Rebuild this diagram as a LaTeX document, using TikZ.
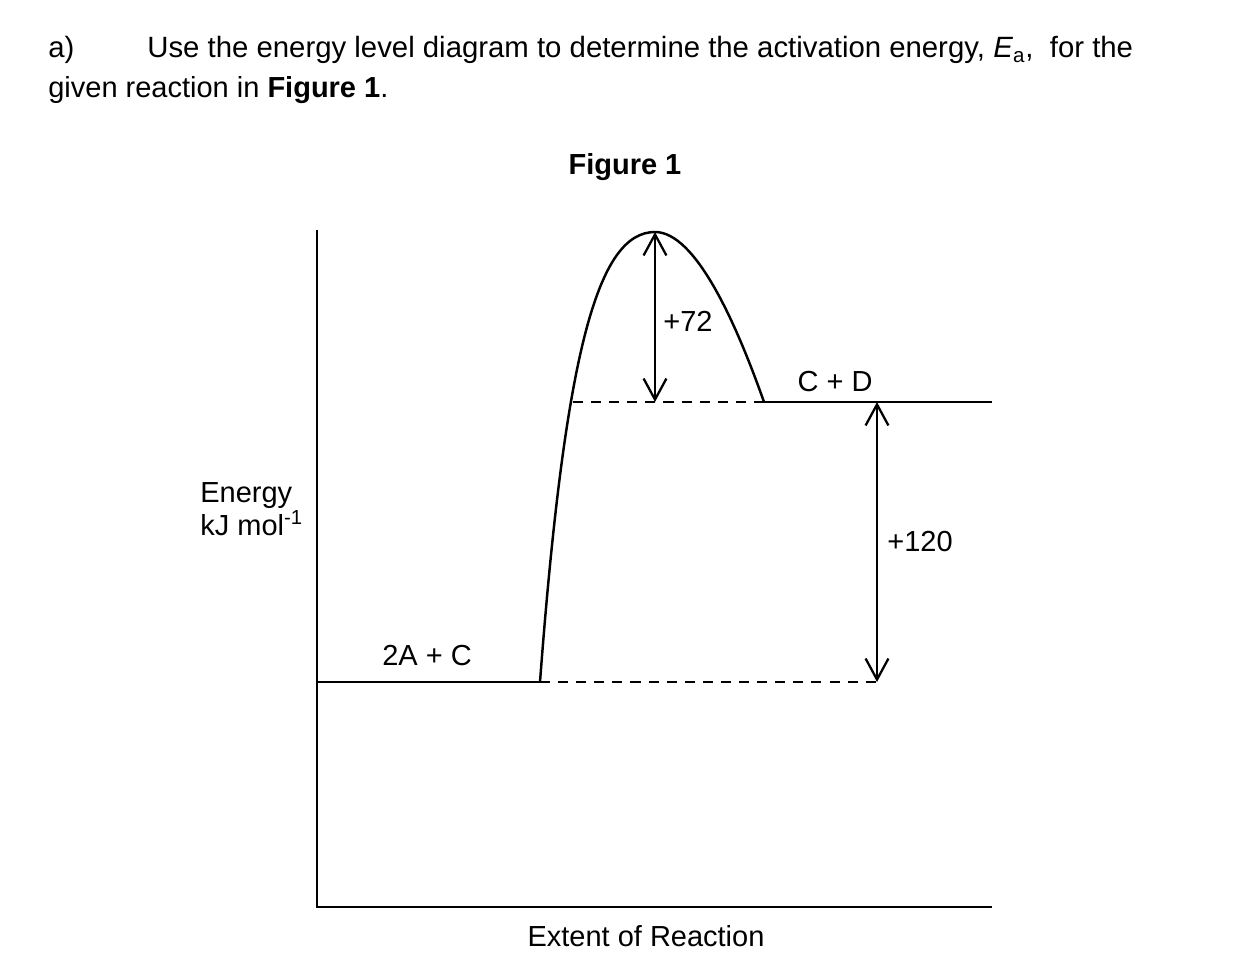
\documentclass[tikz,border=0pt]{standalone}
\usepackage{fontspec}
\setmainfont{Liberation Sans}
\usetikzlibrary{arrows.meta, positioning, calc}
\tikzset{
  txt/.style={font=\fontsize{16.5}{20}\selectfont, inner sep=0pt},
  headtxt/.style={font=\fontsize{16.7}{20}\selectfont, inner sep=0pt},
  axisline/.style={line width=1.4pt},
  levelline/.style={line width=1.4pt},
  guideline/.style={line width=1.4pt, dash pattern=on 5.7pt off 4.6pt},
  barrier/.style={line width=1.4pt},
  deltaarrow/.style={{Straight Barb[length=12pt,width=13pt]}-{Straight Barb[length=12pt,width=13pt]}, line width=1.3pt}
}

\begin{document}
\begin{tikzpicture}[x=0.02cm, y=-0.02cm]
    \useasboundingbox (0,0) rectangle (1251,973);

    % Question text
    \node[headtxt, anchor=west] (qa) at (48,50) {a)};
    \node[headtxt, anchor=west] (qline1) at (147,50) {Use the energy level diagram to determine the activation energy, \textit{E}\textsubscript{a},\ \ for the};
    \node[txt, anchor=west] (qline2) at (48,90) {given reaction in \textbf{Figure 1}.};
    \node[txt, font=\fontsize{16.5}{20}\selectfont\bfseries] (title) at (625,167) {Figure 1};

    % Axes
    \coordinate (origin) at (317,907);
    \coordinate (ytop) at (317,230);
    \coordinate (xend) at (992,907);
    \draw[axisline] (ytop) -- (origin) -- (xend);

    % Levels
    \coordinate (react) at (317,682);
    \coordinate (rise) at (540,682);
    \coordinate (reactend) at (877,682);
    \coordinate (prodleft) at (573,402);
    \coordinate (fall) at (764,402);
    \coordinate (prodend) at (992,402);
    \coordinate (peak) at (655,232);
    \coordinate (peakbase) at (655,402);
    \coordinate (prodtop) at (877,402);

    \draw[levelline] (react) -- (rise);
    \draw[levelline] (fall) -- (prodend);
    \draw[guideline] (rise) -- (reactend);
    \draw[guideline] (prodleft) -- (fall);

    % Energy barrier
    \draw[barrier] (rise) .. controls (565,350) and (598,232) .. (peak)
                          .. controls (695,232) and (735,320) .. (fall);

    % Energy differences
    \draw[deltaarrow] (peak) -- (peakbase);
    \draw[deltaarrow] (prodtop) -- (reactend);

    % Labels
    \node[txt] (ea) at (688,321) {+72};
    \node[txt] (dh) at (920,542) {+120};
    \node[txt] (products) at (835,382) {C + D};
    \node[txt] (reactants) at (427,656) {2A + C};
    \node[txt, font=\fontsize{16.5}{17}\selectfont, align=left, anchor=west] (ylabel) at (200,509) {Energy\\kJ mol\textsuperscript{-1}};
    \node[txt] (xlabel) at (646,936) {Extent of Reaction};
\end{tikzpicture}
\end{document}
